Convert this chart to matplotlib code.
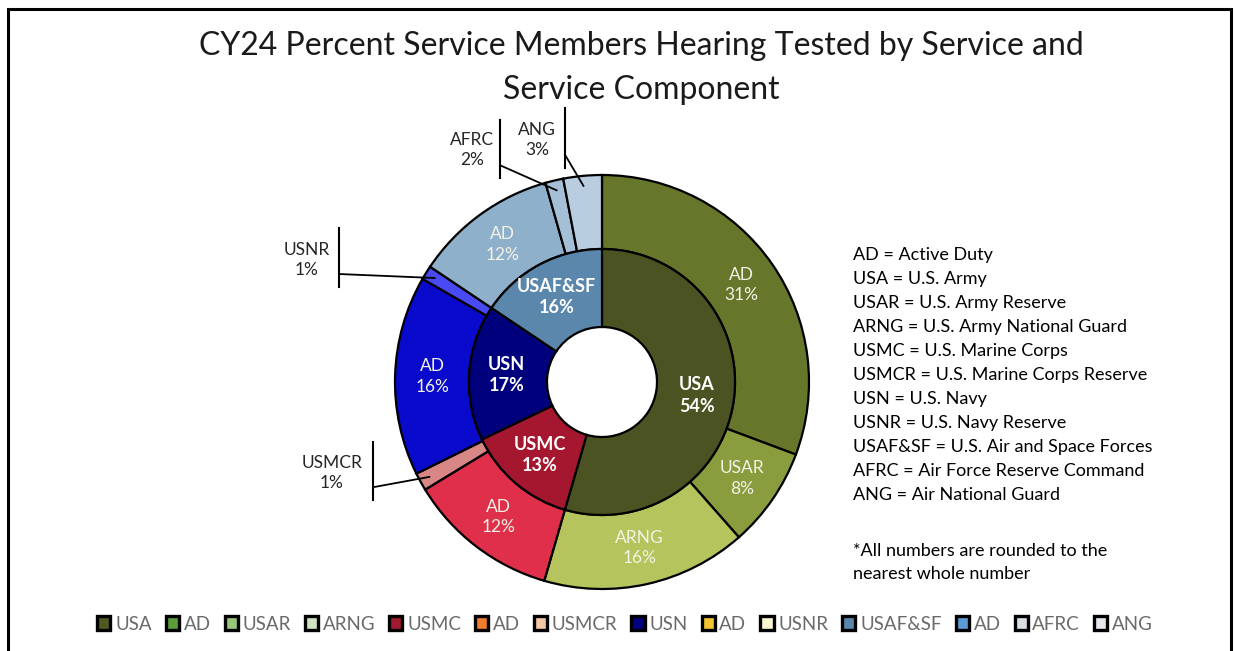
import numpy as np
import matplotlib
matplotlib.use("Agg")
import matplotlib.pyplot as plt
from matplotlib.patches import Patch

# ---------------- data ----------------
title = "CY24 Percent Service Members Hearing Tested by Service and\nService Component"

inner_labels = ["USA", "USMC", "USN", "USAF&SF"]
inner_values = [54.5, 13.4, 16.5, 15.6]
inner_text = ["54%", "13%", "17%", "16%"]

outer_labels = ["AD", "USAR", "ARNG", "AD", "USMCR", "AD", "USNR", "AD", "AFRC", "ANG"]
outer_values = [30.7, 7.8, 16.0, 11.8, 1.4, 15.6, 1.1, 11.2, 1.4, 3.0]
outer_text = ["31%", "8%", "16%", "12%", "1%", "16%", "1%", "12%", "2%", "3%"]

legend_labels = ["USA", "AD", "USAR", "ARNG", "USMC", "AD", "USMCR",
                 "USN", "AD", "USNR", "USAF&SF", "AD", "AFRC", "ANG"]
legend_colors = ["#4f5a22", "#5a9e3a", "#98c77a", "#cfe3c0", "#a01a30", "#ee7d2e",
                 "#f4c6a6", "#000080", "#f2c42e", "#fbf6d2", "#5b87ad", "#5b9bd5",
                 "#d9dde4", "#e4e7ec"]

notes = ["AD = Active Duty", "USA = U.S. Army", "USAR = U.S. Army Reserve",
         "ARNG = U.S. Army National Guard", "USMC = U.S. Marine Corps",
         "USMCR = U.S. Marine Corps Reserve", "USN = U.S. Navy",
         "USNR = U.S. Navy Reserve", "USAF&SF = U.S. Air and Space Forces",
         "AFRC = Air Force Reserve Command", "ANG = Air National Guard"]
footnote = ["*All numbers are rounded to the", "nearest whole number"]

# ---------------- styles ----------------
inner_colors = ["#4b5322", "#a4172f", "#00007d", "#5b87ad"]
outer_colors = ["#66762b", "#8a9d3e", "#b5c45c", "#e02f4a", "#d98686",
                "#0a0acc", "#4a4af5", "#8fb0cb", "#a5bfd6", "#b8cde0"]

FONT = "Lato"
plt.rcParams["font.family"] = [FONT, "DejaVu Sans"]

W, H = 1235, 651
fig = plt.figure(figsize=(W / 100, H / 100), dpi=100)
ax = fig.add_axes([0, 0, 1, 1])
ax.axis("off")

def Y(y):
    return H - y

cx, cy = 602, Y(382)
R_out, R_mid, R_in = 207, 133, 55

ow, _ = ax.pie(outer_values, radius=R_out, center=(cx, cy), startangle=90,
               counterclock=False, colors=outer_colors,
               wedgeprops=dict(width=R_out - R_mid, edgecolor="black", linewidth=1.6))
iw, _ = ax.pie(inner_values, radius=R_mid, center=(cx, cy), startangle=90,
               counterclock=False, colors=inner_colors,
               wedgeprops=dict(width=R_mid - R_in, edgecolor="black", linewidth=1.6))
ax.set_xlim(0, W)
ax.set_ylim(0, H)
ax.set_aspect("auto")

def mid(w):
    return np.deg2rad((w.theta1 + w.theta2) / 2)

# inner labels
for w, lab, t in zip(iw, inner_labels, inner_text):
    a = mid(w)
    r = (R_mid + R_in) / 2 + 2
    ax.text(cx + r * np.cos(a), cy + r * np.sin(a), f"{lab}\n{t}", ha="center",
            va="center", color="white", fontsize=13, fontweight="bold", linespacing=1.3)

# outer labels (callouts: text x, text y, bar x, bar top, bar bottom)
callout = {"USMCR": (332, 473, 373, 442, 500),
           "USNR": (307, 260, 339, 228, 287),
           "AFRC": (472, 150, 500, 120, 178),
           "ANG": (537, 140, 565, 108, 168)}
for w, lab, t in zip(ow, outer_labels, outer_text):
    a = mid(w)
    if lab in callout:
        tx, ty, bx, by0, by1 = callout[lab]
        ax.text(tx, Y(ty), f"{lab}\n{t}", ha="center", va="center", color="#262626",
                fontsize=12.5, linespacing=1.35)
        ax.plot([bx, bx], [Y(by0), Y(by1)], color="black", lw=1.5)
        r = R_out - 10
        px, py = cx + r * np.cos(a), cy + r * np.sin(a)
        sy = Y(by0 + (by1 - by0) * 0.78)
        ax.plot([bx, px], [sy, py], color="black", lw=1.3)
    else:
        r = (R_out + R_mid) / 2
        ax.text(cx + r * np.cos(a), cy + r * np.sin(a), f"{lab}\n{t}", ha="center",
                va="center", color="#f2f2e6", fontsize=12.5, linespacing=1.35)

# title
fig.text(641 / W, Y(68) / H, title, ha="center", va="center", fontsize=23,
         color="#1a1a1a", linespacing=1.55)

# notes
for i, s in enumerate(notes):
    ax.text(853, Y(255 + 24 * i), s, ha="left", va="center", fontsize=13, color="black")
for i, s in enumerate(footnote):
    ax.text(853, Y(551 + 23 * i), s, ha="left", va="center", fontsize=13, color="black")

# legend
handles = [Patch(facecolor=c, edgecolor="black", linewidth=2.4) for c in legend_colors]
leg = fig.legend(handles, legend_labels, loc="center", bbox_to_anchor=(625 / W, Y(624) / H),
                 ncol=len(legend_labels), frameon=False, fontsize=13.5,
                 handlelength=0.7, handleheight=0.7, handletextpad=0.25,
                 columnspacing=0.75, borderpad=0)
for txt in leg.get_texts():
    txt.set_color("#6a6a6a")

# figure border (top, left, right)
ax.plot([8, 8, 1231, 1231], [0, Y(9), Y(9), 0], color="black", lw=2.2,
        solid_joinstyle="miter")

fig.savefig("out.png", dpi=100)
